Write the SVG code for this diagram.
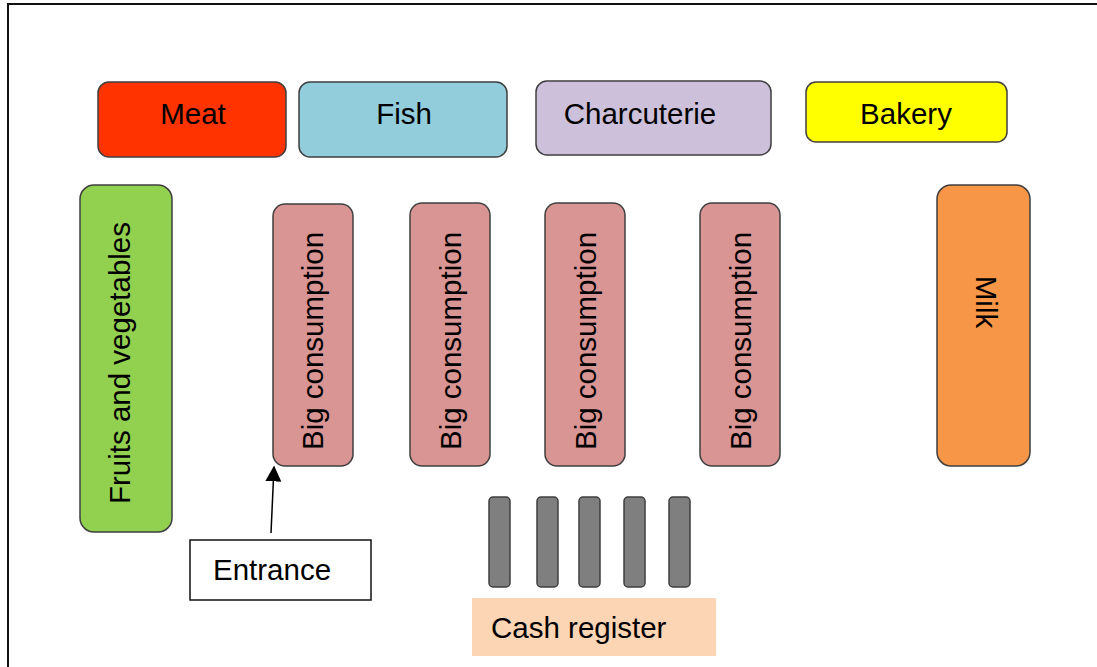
<svg xmlns="http://www.w3.org/2000/svg" width="1097" height="667" viewBox="0 0 1097 667">
  <style>
    .box { stroke: #3f3f3f; stroke-width: 1.5; }
    .lbl { font-family: "Liberation Sans", Arial, sans-serif; font-size: 29.5px; fill: #000; }
    .mid { text-anchor: middle; dominant-baseline: central; }
    .big { fill: #D99594; }
    .till { fill: #7F7F7F; stroke: #3f3f3f; stroke-width: 1.5; }
  </style>
  <defs>
    <marker id="arrow" viewBox="0 0 10 10" refX="9" refY="5" markerWidth="16" markerHeight="16" markerUnits="userSpaceOnUse" orient="auto">
      <path d="M0,0 L10,5 L0,10 Z" fill="#000"/>
    </marker>
  </defs>
  <rect width="1097" height="667" fill="#fff"/>
  <!-- outer frame of the floor plan -->
  <path d="M8,667 V4 H1097" fill="none" stroke="#111" stroke-width="2"/>

  <g id="meat">
    <rect class="box" x="98" y="82" width="188" height="75" rx="11" fill="#FF3300"/>
    <text class="lbl mid" x="193" y="113">Meat</text>
  </g>
  <g id="fish">
    <rect class="box" x="299" y="82" width="208" height="75" rx="11" fill="#92CDDC"/>
    <text class="lbl mid" x="404" y="113">Fish</text>
  </g>
  <g id="charcuterie">
    <rect class="box" x="536" y="81" width="235" height="74" rx="11" fill="#CCC0DA"/>
    <text class="lbl mid" x="640" y="113">Charcuterie</text>
  </g>
  <g id="bakery">
    <rect class="box" x="806" y="82" width="201" height="60" rx="10" fill="#FFFF00"/>
    <text class="lbl mid" x="906" y="113">Bakery</text>
  </g>
  <g id="fruits">
    <rect class="box" x="80" y="185" width="92" height="347" rx="14" fill="#92D050"/>
    <text class="lbl mid" transform="translate(119,363) rotate(-90)">Fruits and vegetables</text>
  </g>
  <g id="big1">
    <rect class="box big" x="273" y="204" width="80" height="262" rx="12"/>
    <text class="lbl mid" transform="translate(312,341) rotate(-90)">Big consumption</text>
  </g>
  <g id="big2">
    <rect class="box big" x="410" y="203" width="80" height="263" rx="12"/>
    <text class="lbl mid" transform="translate(450,341) rotate(-90)">Big consumption</text>
  </g>
  <g id="big3">
    <rect class="box big" x="545" y="203" width="80" height="263" rx="12"/>
    <text class="lbl mid" transform="translate(585,341) rotate(-90)">Big consumption</text>
  </g>
  <g id="big4">
    <rect class="box big" x="700" y="203" width="80" height="263" rx="12"/>
    <text class="lbl mid" transform="translate(740,341) rotate(-90)">Big consumption</text>
  </g>
  <g id="milk">
    <rect class="box" x="937" y="185" width="93" height="281" rx="14" fill="#F79646"/>
    <text class="lbl mid" transform="translate(986,302) rotate(90)">Milk</text>
  </g>
  <g id="tills">
    <rect class="till" x="489" y="497" width="21" height="90" rx="4"/>
    <rect class="till" x="537" y="497" width="21" height="90" rx="4"/>
    <rect class="till" x="579" y="497" width="21" height="90" rx="4"/>
    <rect class="till" x="624" y="497" width="21" height="90" rx="4"/>
    <rect class="till" x="669" y="497" width="21" height="90" rx="4"/>
  </g>
  <g id="cash-register">
    <rect x="472" y="598" width="244" height="58" fill="#FCD5B4"/>
    <text class="lbl" x="491" y="638">Cash register</text>
  </g>
  <g id="entrance">
    <rect x="190" y="540" width="181" height="60" fill="#fff" stroke="#111" stroke-width="1.5"/>
    <text class="lbl" x="213" y="580">Entrance</text>
  </g>
  <g id="connectors">
    <line x1="271" y1="533" x2="274" y2="467" stroke="#000" stroke-width="1.5" marker-end="url(#arrow)"/>
  </g>
</svg>
